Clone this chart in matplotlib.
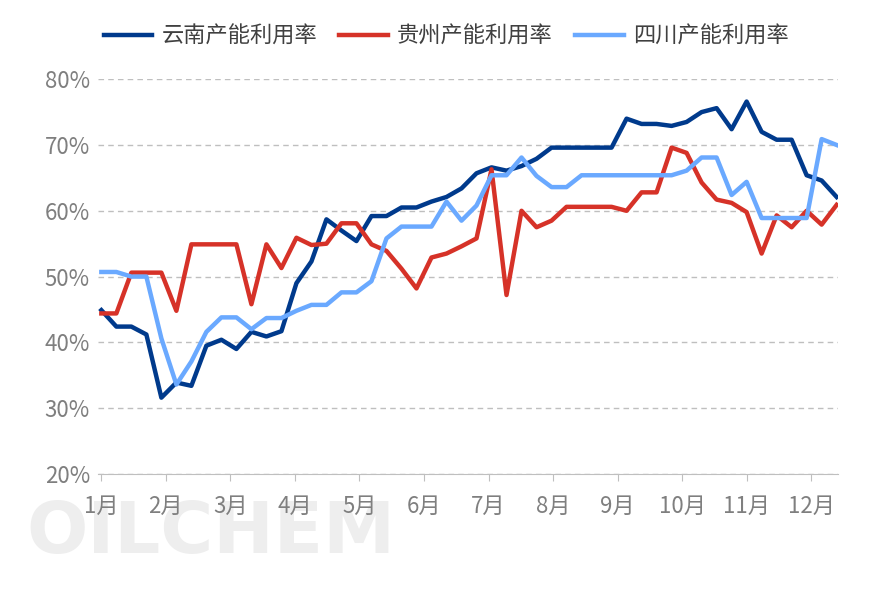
import matplotlib
matplotlib.use("Agg")
from matplotlib import pyplot as plt
import numpy as np

plt.rcParams['font.family'] = ['Noto Sans CJK SC', 'DejaVu Sans']

# 周度产能利用率 (%)
yunnan = [44.9, 42.4, 42.4, 41.2, 31.6, 33.9, 33.4, 39.5, 40.4, 39.0,
          41.6, 40.9, 41.7, 49.0, 52.3, 58.7, 57.0, 55.4, 59.2, 59.2,
          60.5, 60.5, 61.4, 62.1, 63.4, 65.7, 66.6, 66.1, 66.8, 67.9,
          69.6, 69.6, 69.6, 69.6, 69.6, 74.0, 73.2, 73.2, 72.9, 73.5,
          75.0, 75.6, 72.4, 76.6, 72.0, 70.8, 70.8, 65.4, 64.6, 62.1]
guizhou = [44.4, 44.4, 50.6, 50.6, 50.6, 44.8, 54.9, 54.9, 54.9, 54.9,
           45.8, 54.9, 51.3, 55.9, 54.8, 55.0, 58.1, 58.1, 54.9, 53.9,
           51.2, 48.2, 52.9, 53.5, 54.6, 55.8, 66.3, 47.2, 60.0, 57.5,
           58.5, 60.6, 60.6, 60.6, 60.6, 60.0, 62.8, 62.8, 69.6, 68.8,
           64.3, 61.7, 61.2, 59.8, 53.5, 59.3, 57.5, 60.0, 57.9, 60.9]
sichuan = [50.7, 50.7, 50.0, 50.0, 40.6, 33.6, 37.1, 41.6, 43.8, 43.8,
           42.0, 43.7, 43.7, 44.8, 45.7, 45.7, 47.6, 47.6, 49.3, 55.8,
           57.6, 57.6, 57.6, 61.4, 58.5, 60.8, 65.4, 65.4, 68.1, 65.3,
           63.6, 63.6, 65.4, 65.4, 65.4, 65.4, 65.4, 65.4, 65.4, 66.1,
           68.1, 68.1, 62.4, 64.4, 58.9, 58.9, 58.9, 58.9, 70.9, 70.0]
months = [f'{m}月' for m in range(1, 13)]

fig = plt.figure(figsize=(8.86, 5.91), dpi=100)

# 水印 (画在坐标轴后面)
fig.text(0.03, 0.065, 'OILCHEM', fontsize=52, color='#eeeeee',
         fontweight='bold', family='DejaVu Sans', zorder=-5)

ax = fig.add_axes([0.111, 0.198, 0.835, 0.668])
ax.patch.set_alpha(0)

x = np.arange(len(yunnan))
ax.plot(x, yunnan, color='#003a8c', lw=3.2, label='云南产能利用率')
ax.plot(x, guizhou, color='#d63228', lw=3.2, label='贵州产能利用率')
ax.plot(x, sichuan, color='#6aa9ff', lw=3.2, label='四川产能利用率')

ax.set_xlim(-0.2, 49.1)
ax.set_ylim(20, 80)
ax.set_yticks(range(20, 81, 10))
ax.set_yticklabels([f'{v}%' for v in range(20, 81, 10)])
ticks = np.arange(12) * 4.3
ax.set_xticks(ticks)
ax.set_xticklabels(months)
ax.yaxis.grid(True, ls=(0, (4, 3)), color='#bfbfbf', lw=1)
ax.set_axisbelow(True)
for s in ['left', 'right', 'top']:
    ax.spines[s].set_visible(False)
ax.spines['bottom'].set_color('#bfbfbf')
ax.tick_params(axis='y', length=0, labelsize=16, colors='#7f7f7f', pad=6)
ax.tick_params(axis='x', length=5, color='#bfbfbf', labelsize=16, colors='#7f7f7f', pad=10)

ax.legend(loc='lower center', bbox_to_anchor=(0.47, 1.03), ncol=3, frameon=False,
          fontsize=16, handlelength=2.2, handletextpad=0.4, columnspacing=1.0,
          labelcolor='#404040')

fig.savefig('out.png', dpi=100)
